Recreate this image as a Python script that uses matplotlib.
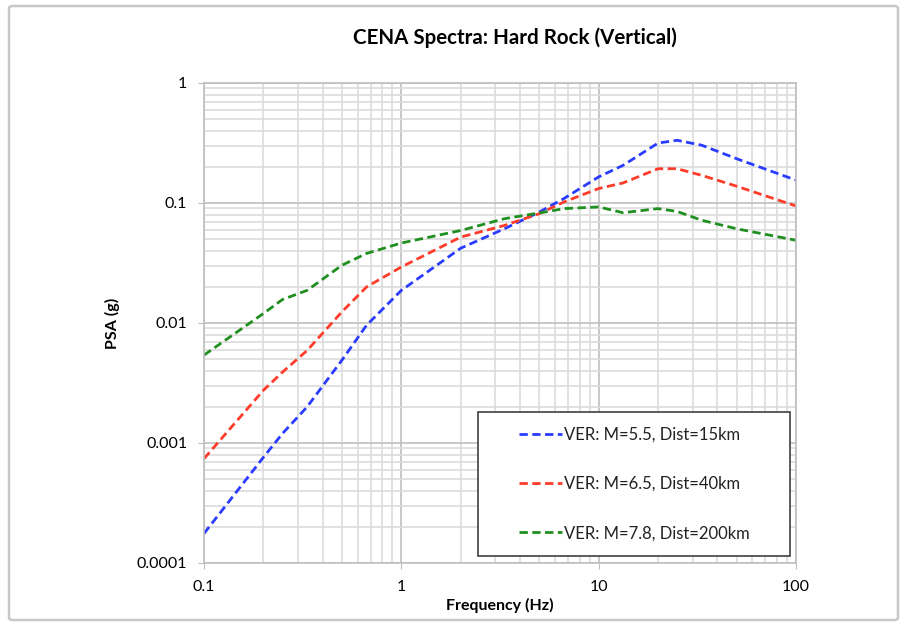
import matplotlib.pyplot as plt
from matplotlib.patches import FancyBboxPatch, Rectangle
from matplotlib.ticker import LogLocator, FixedLocator, FixedFormatter, NullFormatter

plt.rcParams['font.family'] = ['Lato', 'DejaVu Sans']

# Frequencies (Hz) and PSA (g)
freq = [0.1, 0.2, 0.25, 0.333, 0.5, 0.667, 1, 2, 3.33, 5, 6.67, 10, 13.3, 20, 25, 33.3, 50, 100]
psa_m55 = [1.76e-4, 7.6e-4, 1.2e-3, 2.0e-3, 4.9e-3, 9.6e-3, 0.0187, 0.042, 0.061, 0.084, 0.109,
           0.165, 0.206, 0.316, 0.333, 0.303, 0.234, 0.155]
psa_m65 = [7.4e-4, 2.75e-3, 3.9e-3, 5.9e-3, 0.0124, 0.020, 0.0293, 0.052, 0.065, 0.0815, 0.102,
           0.132, 0.147, 0.193, 0.193, 0.170, 0.138, 0.0944]
psa_m78 = [5.4e-3, 0.0120, 0.0157, 0.0187, 0.0303, 0.038, 0.0464, 0.059, 0.074, 0.0826, 0.0898,
           0.0927, 0.083, 0.0898, 0.085, 0.0718, 0.061, 0.0489]
labels = ['VER: M=5.5, Dist=15km', 'VER: M=6.5, Dist=40km', 'VER: M=7.8, Dist=200km']
colors = ['#2a3cff', '#ff3b2a', '#1f8f1f']

ytick_vals = [0.0001, 0.001, 0.01, 0.1, 1]
ytick_labels = ['0.0001', '0.001', '0.01', '0.1', '1']
xtick_vals = [0.1, 1, 10, 100]
xtick_labels = ['0.1', '1', '10', '100']

fig = plt.figure(figsize=(9.02, 6.23), dpi=100)
fig.patches.append(FancyBboxPatch((9 / 902, 3 / 623), 889 / 902, 614 / 623,
                                  boxstyle='round,pad=0,rounding_size=0.004',
                                  transform=fig.transFigure, fill=False,
                                  edgecolor='#c8c8c8', linewidth=1.8))

ax = fig.add_axes([204 / 902, 60 / 623, 592 / 902, 480 / 623])
for y, lab, c in zip([psa_m55, psa_m65, psa_m78], labels, colors):
    ax.plot(freq, y, color=c, linestyle=(0, (3, 1.6)), linewidth=2, label=lab)

ax.set_xscale('log')
ax.set_yscale('log')
ax.set_xlim(0.1, 100)
ax.set_ylim(0.0001, 1)

ax.xaxis.set_major_locator(FixedLocator(xtick_vals))
ax.xaxis.set_major_formatter(FixedFormatter(xtick_labels))
ax.yaxis.set_major_locator(FixedLocator(ytick_vals))
ax.yaxis.set_major_formatter(FixedFormatter(ytick_labels))
ax.xaxis.set_minor_locator(LogLocator(base=10, subs=range(2, 10)))
ax.yaxis.set_minor_locator(LogLocator(base=10, subs=range(2, 10)))
ax.xaxis.set_minor_formatter(NullFormatter())
ax.yaxis.set_minor_formatter(NullFormatter())

ax.grid(True, which='major', color='#bfbfbf', linewidth=1.2)
ax.grid(True, which='minor', color='#dcdcdc', linewidth=1.2)
ax.set_axisbelow(True)
for s in ax.spines.values():
    s.set_color('#bfbfbf')
    s.set_linewidth(1.2)
ax.tick_params(which='major', length=4, color='#bfbfbf', labelsize=11.5, pad=8)
ax.tick_params(which='minor', length=0)

fig.text(515 / 902, 1 - 38 / 623, 'CENA Spectra: Hard Rock (Vertical)', fontsize=14.8,
         fontweight='bold', ha='center', va='center')
ax.set_xlabel('Frequency (Hz)', fontsize=11.5, fontweight='bold', labelpad=3)
ax.set_ylabel('PSA (g)', fontsize=11.5, fontweight='bold', labelpad=12)

# legend frame drawn by hand, entries centred inside it
box = (274 / 592, 7 / 480, 312 / 592, 144 / 480)
ax.add_patch(Rectangle(box[:2], box[2], box[3], transform=ax.transAxes, facecolor='white',
                       edgecolor='#404040', linewidth=1.2, zorder=4))
leg = ax.legend(loc='center', bbox_to_anchor=box, fontsize=12, frameon=False,
                handlelength=2.6, handletextpad=0.1, labelspacing=2.0, borderaxespad=0)
leg.set_zorder(5)
for t in leg.get_texts():
    t.set_color('#222222')

fig.savefig('out.png', dpi=100)
